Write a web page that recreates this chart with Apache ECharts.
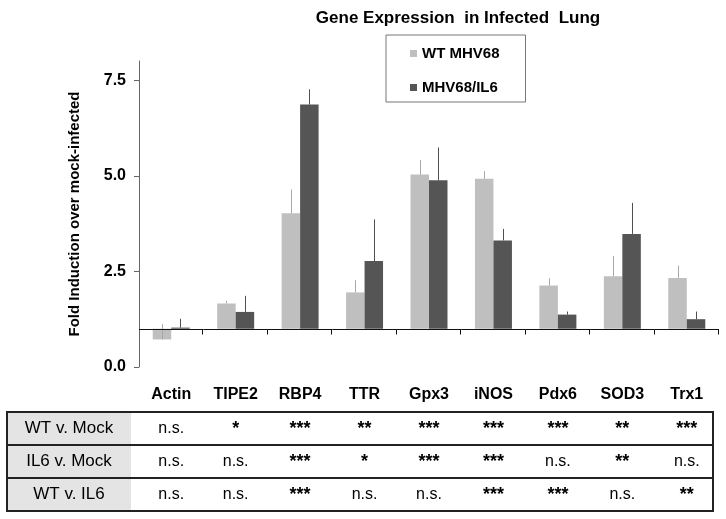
<!DOCTYPE html>
<html>
<head>
<meta charset="utf-8">
<script src="https://cdn.jsdelivr.net/npm/echarts@6/dist/echarts.min.js"></script>
<style>
  html, body { margin: 0; padding: 0; background: #fff; }
  #chart { width: 726px; height: 519px; }
</style>
</head>
<body>
<div id="chart"></div>
<script>
const categories = ['Actin', 'TIPE2', 'RBP4', 'TTR', 'Gpx3', 'iNOS', 'Pdx6', 'SOD3', 'Trx1'];
const wtValues  = [0.72, 1.66, 4.02, 1.95, 5.03, 4.92, 2.13, 2.37, 2.33];
const wtErrors  = [0.40, 0.07, 0.62, 0.32, 0.38, 0.20, 0.19, 0.53, 0.32];
const il6Values = [1.03, 1.44, 6.86, 2.77, 4.88, 3.31, 1.37, 3.48, 1.25];
const il6Errors = [0.23, 0.42, 0.40, 1.09, 0.86, 0.30, 0.08, 0.81, 0.20];
const baseline = 1.0;
const yTicks = [0, 2.5, 5, 7.5];
const seriesNames = ['WT MHV68', 'MHV68/IL6'];
const rowLabels = ['WT v. Mock', 'IL6 v. Mock', 'WT v. IL6'];
const sigWTvMock  = ['n.s.', '*', '***', '**', '***', '***', '***', '**', '***'];
const sigIL6vMock = ['n.s.', 'n.s.', '***', '*', '***', '***', 'n.s.', '**', 'n.s.'];
const sigWTvIL6   = ['n.s.', 'n.s.', '***', 'n.s.', 'n.s.', '***', '***', 'n.s.', '**'];

const FONT = '"Liberation Sans", Arial, sans-serif';
const colors = ['#bfbfbf', '#555555'];
const errColors = ['#a8a8a8', '#505050'];

function makeRender(k) {
  return function (params, api) {
    const i = api.value(0), v = api.value(1), e = api.value(2);
    const top = api.coord([i, v]);
    const base = api.coord([i, baseline]);
    const errTop = api.coord([i, v + e]);
    const band = api.size([1, 0])[0];
    const bw = band * 0.287;
    const x0 = k === 0 ? top[0] - bw : top[0];
    const cx = Math.round(x0 + bw / 2) + 0.5;
    return {
      type: 'group',
      children: [
        { type: 'rect', shape: { x: x0, y: Math.min(top[1], base[1]), width: bw, height: Math.abs(base[1] - top[1]) },
          style: { fill: colors[k] } },
        { type: 'line', shape: { x1: cx, y1: top[1], x2: cx, y2: errTop[1] },
          style: { stroke: errColors[k], lineWidth: 1 } }
      ]
    };
  };
}

function axisRender(params, api) {
  const i = api.value(0);
  const c = api.coord([i, baseline]);
  const band = api.size([1, 0])[0];
  const xl = c[0] - band / 2, xr = c[0] + band / 2;
  const y = Math.round(c[1]) + 0.5;
  return {
    type: 'group',
    children: [
      { type: 'line', shape: { x1: xl, y1: y, x2: xr, y2: y }, style: { stroke: '#111', lineWidth: 1 } },
      { type: 'line', shape: { x1: Math.round(xr) - 0.5, y1: y, x2: Math.round(xr) - 0.5, y2: y + 5 }, style: { stroke: '#111', lineWidth: 1 } }
    ]
  };
}

const chart = echarts.init(document.getElementById('chart'), null, { renderer: 'canvas' });

chart.setOption({
  animation: false,
  backgroundColor: '#fff',
  textStyle: { fontFamily: FONT },
  title: {
    text: 'Gene Expression  in Infected  Lung',
    left: 453, top: 5, textAlign: 'center',
    textStyle: { fontFamily: FONT, fontWeight: 'bold', fontSize: 17, color: '#000' }
  },
  legend: {
    orient: 'vertical', left: 386, top: 35,
    data: [{ name: seriesNames[0], icon: 'rect' }, { name: seriesNames[1], icon: 'rect' }],
    itemWidth: 7, itemHeight: 7, itemGap: 19,
    padding: [11, 26, 7, 24],
    borderColor: '#777', borderWidth: 1, backgroundColor: '#fff',
    textStyle: { fontFamily: FONT, fontWeight: 'bold', fontSize: 15, color: '#000', lineHeight: 14 }
  },
  grid: { left: 139, right: 7, top: 61, bottom: 152 },
  xAxis: {
    type: 'category', data: categories,
    axisLine: { show: false }, axisTick: { show: false },
    axisLabel: { margin: 20, fontFamily: FONT, fontWeight: 'bold', fontSize: 16, color: '#000' }
  },
  yAxis: {
    type: 'value', min: 0, max: 8,
    name: 'Fold Induction over mock-infected', nameLocation: 'middle', nameRotate: 90, nameGap: 57,
    nameTextStyle: { fontFamily: FONT, fontWeight: 'bold', fontSize: 15, color: '#000' },
    axisLine: { show: true, lineStyle: { color: '#666', width: 1 } },
    axisTick: { show: true, length: 5, lineStyle: { color: '#666' }, customValues: yTicks },
    axisLabel: { margin: 13, fontFamily: FONT, fontWeight: 'bold', fontSize: 16, color: '#000',
      customValues: yTicks, formatter: v => v.toFixed(1) },
    splitLine: { show: false }
  },
  series: [
    { name: seriesNames[0], type: 'custom', renderItem: makeRender(0), itemStyle: { color: colors[0] },
      encode: { x: 0, y: 1 }, data: categories.map((c, i) => [i, wtValues[i], wtErrors[i]]), z: 2 },
    { name: seriesNames[1], type: 'custom', renderItem: makeRender(1), itemStyle: { color: colors[1] },
      encode: { x: 0, y: 1 }, data: categories.map((c, i) => [i, il6Values[i], il6Errors[i]]), z: 2 },
    { name: 'axis', type: 'custom', renderItem: axisRender, silent: true,
      encode: { x: 0, y: 1 }, data: categories.map((c, i) => [i, baseline]), z: 3 }
  ]
});

// significance table below the chart
const rows = [sigWTvMock, sigIL6vMock, sigWTvIL6];
const tLeft = 7, tRight = 713, tTop = 412, rowH = 33, labelColW = 124;
const g = [];
g.push({ type: 'rect', shape: { x: tLeft, y: tTop, width: labelColW, height: rowH * 3 }, style: { fill: '#e4e4e4' }, z: 1 });
rows.forEach((row, r) => {
  const cy = tTop + rowH * r + rowH / 2;
  g.push({ type: 'text', x: tLeft + labelColW / 2, y: cy, z: 5,
    style: { text: rowLabels[r], fill: '#000', font: '17px ' + FONT, align: 'center', verticalAlign: 'middle' } });
  row.forEach((s, i) => {
    const x = chart.convertToPixel({ xAxisIndex: 0 }, i);
    const isStar = s.indexOf('*') >= 0;
    g.push({ type: 'text', x: x, y: cy + (isStar ? 1 : 0), z: 5,
      style: { text: s, fill: '#000', font: (isStar ? 'bold 18px ' : '16px ') + FONT, align: 'center', verticalAlign: 'middle' } });
  });
});
for (let r = 0; r <= 3; r++) {
  const y = tTop + rowH * r;
  g.push({ type: 'line', shape: { x1: tLeft - 1, y1: y, x2: tRight + 1, y2: y }, style: { stroke: '#222', lineWidth: 2 }, z: 6 });
}
[tLeft, tRight].forEach(x => {
  g.push({ type: 'line', shape: { x1: x, y1: tTop, x2: x, y2: tTop + rowH * 3 }, style: { stroke: '#222', lineWidth: 2 }, z: 6 });
});
chart.setOption({ graphic: g });
</script>
</body>
</html>
